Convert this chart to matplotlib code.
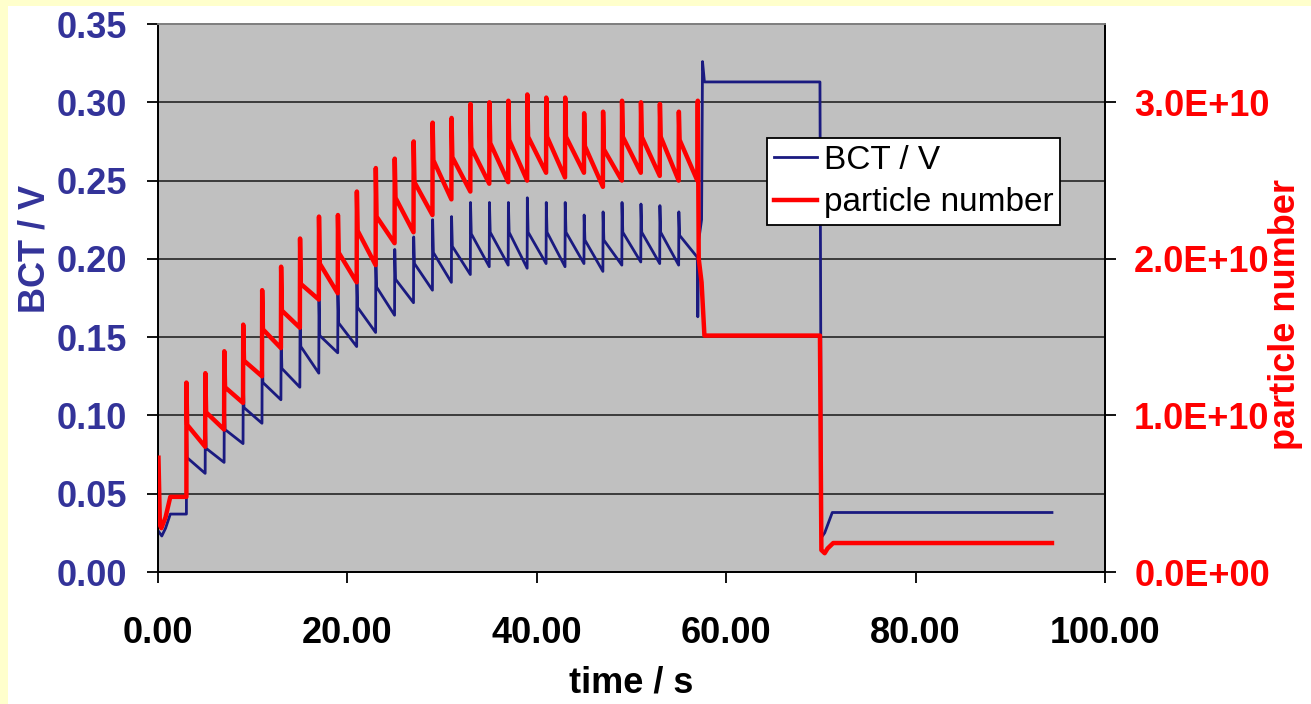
import matplotlib
matplotlib.use("Agg")
import matplotlib.pyplot as plt
from matplotlib.patches import Rectangle
from matplotlib.lines import Line2D
from matplotlib.ticker import FormatStrFormatter

plt.rcParams['font.family'] = ['Liberation Sans', 'DejaVu Sans']

# injection times (s)
spike_t = [3.0, 5.0, 7.0, 9.0, 11.0, 13.0, 15.0, 17.0, 19.0, 21.0, 23.0, 25.0, 27.0, 29.0,
           31.0, 33.0, 35.0, 37.0, 39.0, 41.0, 43.0, 45.0, 47.0, 49.0, 51.0, 53.0, 55.0]

# BCT / V per injection: spike top, level right after, level just before the next one
bct_peak = [0.094, 0.099, 0.110, 0.123, 0.140, 0.152, 0.166, 0.177, 0.178, 0.190, 0.201, 0.206, 0.214, 0.225,
            0.227, 0.236, 0.236, 0.236, 0.239, 0.236, 0.236, 0.228, 0.230, 0.236, 0.235, 0.234, 0.230]
bct_post = [0.073, 0.079, 0.091, 0.105, 0.121, 0.130, 0.144, 0.151, 0.159, 0.169, 0.182, 0.187, 0.197, 0.204,
            0.208, 0.216, 0.217, 0.217, 0.217, 0.217, 0.217, 0.212, 0.212, 0.217, 0.217, 0.217, 0.215]
bct_pre = [0.063, 0.070, 0.082, 0.095, 0.110, 0.118, 0.127, 0.140, 0.144, 0.153, 0.164, 0.172, 0.180, 0.185,
           0.190, 0.195, 0.196, 0.194, 0.197, 0.195, 0.197, 0.192, 0.196, 0.198, 0.197, 0.196, 0.201]

# particle number (units of 1E+10), same layout
pn_peak = [1.21, 1.27, 1.41, 1.58, 1.80, 1.95, 2.13, 2.27, 2.28, 2.43, 2.58, 2.64, 2.75, 2.87,
           2.90, 2.99, 3.00, 3.01, 3.05, 3.03, 3.03, 2.93, 2.94, 3.01, 3.00, 2.99, 2.94]
pn_post = [0.94, 1.02, 1.18, 1.35, 1.55, 1.67, 1.84, 1.97, 2.04, 2.18, 2.27, 2.39, 2.49, 2.63,
           2.65, 2.71, 2.74, 2.76, 2.78, 2.78, 2.78, 2.72, 2.70, 2.78, 2.78, 2.78, 2.76]
pn_pre = [0.80, 0.91, 1.08, 1.25, 1.43, 1.56, 1.74, 1.78, 1.85, 1.96, 2.10, 2.17, 2.28, 2.38,
          2.43, 2.48, 2.49, 2.50, 2.55, 2.52, 2.55, 2.46, 2.50, 2.55, 2.53, 2.50, 2.50]

# start of the cycle and the extraction at the end
bct_start_t = [0.05, 0.4, 0.8, 1.3, 3.0]
bct_start_v = [0.026, 0.023, 0.028, 0.037, 0.037]
pn_start_t = [0.05, 0.2, 0.35, 0.8, 1.3, 3.0]
pn_start_v = [0.73, 0.30, 0.28, 0.35, 0.48, 0.48]

bct_end_t = [57.0, 57.1, 57.4, 57.5, 57.7, 69.9, 70.05, 70.4, 71.2, 94.4]
bct_end_v = [0.163, 0.212, 0.225, 0.326, 0.313, 0.313, 0.022, 0.025, 0.038, 0.038]
pn_end_t = [57.0, 57.1, 57.4, 57.7, 69.9, 70.05, 70.4, 70.7, 71.3, 94.4]
pn_end_v = [3.01, 2.00, 1.85, 1.51, 1.51, 0.14, 0.12, 0.15, 0.185, 0.185]


def build(start_t, start_v, peak, post, pre, end_t, end_v):
    t = list(start_t)
    v = list(start_v)
    for i, ts in enumerate(spike_t):
        t += [ts, ts + 0.08, spike_t[i + 1] - 0.02 if i + 1 < len(spike_t) else 56.95]
        v += [peak[i], post[i], pre[i]]
    return t + end_t, v + end_v


bt, bv = build(bct_start_t, bct_start_v, bct_peak, bct_post, bct_pre, bct_end_t, bct_end_v)
pt, pv = build(pn_start_t, pn_start_v, pn_peak, pn_post, pn_pre, pn_end_t, pn_end_v)
pv = [x * 1e10 for x in pv]

blue = '#1a1a80'
label_blue = '#333399'
red = '#ff0000'

fig = plt.figure(figsize=(13.11, 7.04), dpi=100, facecolor='white')
fig.patches.append(Rectangle((0, 0), 8 / 1311, 1, transform=fig.transFigure,
                             facecolor='#ffffcc', edgecolor='none', zorder=-5))
fig.patches.append(Rectangle((0, 1 - 6 / 704), 1, 6 / 704, transform=fig.transFigure,
                             facecolor='#ffffcc', edgecolor='none', zorder=-5))

ax = fig.add_axes([158 / 1311, 1 - 572 / 704, 947 / 1311, 548 / 704])
ax.set_facecolor('#c0c0c0')
ax2 = ax.twinx()

ax.plot(bt, bv, color=blue, lw=2.0, zorder=3)
ax2.plot(pt, pv, color=red, lw=3.2, zorder=3)

ax.set_xlim(0, 100)
ax.set_ylim(0, 0.35)
ax2.set_ylim(0, 3.5e10)
ax.set_xticks([0, 20, 40, 60, 80, 100])
ax.set_yticks([0, 0.05, 0.10, 0.15, 0.20, 0.25, 0.30, 0.35])
ax2.set_yticks([0, 1e10, 2e10, 3e10])
ax.xaxis.set_major_formatter(FormatStrFormatter('%.2f'))
ax.yaxis.set_major_formatter(FormatStrFormatter('%.2f'))
ax2.yaxis.set_major_formatter(FormatStrFormatter('%.1E'))

ax.yaxis.grid(True, color='#303030', lw=1.3)
ax.set_axisbelow(True)

for a in (ax, ax2):
    for s in a.spines.values():
        s.set_color('black')
        s.set_linewidth(1.3)
    a.spines['top'].set_color('#808080')

ax.tick_params(axis='y', colors=label_blue, labelsize=26, length=8, width=1.3, pad=14)
ax.tick_params(axis='y', color='black')
for lab in ax.get_yticklabels():
    lab.set_fontweight('bold')
ax.tick_params(axis='x', labelsize=26, length=8, width=1.3, pad=24)
for lab in ax.get_xticklabels():
    lab.set_fontweight('bold')
ax2.tick_params(axis='y', labelcolor=red, color='black', labelsize=26, length=8, width=1.3, pad=13)
for lab in ax2.get_yticklabels():
    lab.set_fontweight('bold')

ax.set_xlabel('time / s', fontsize=26, fontweight='bold')
ax.xaxis.set_label_coords(0.5, -0.17)
ax.set_ylabel('BCT / V', fontsize=26, fontweight='bold', color=label_blue)
ax.yaxis.set_label_coords(-0.111, 0.59)
ax2.set_ylabel('particle number', fontsize=26, fontweight='bold', color=red)
ax2.yaxis.set_label_coords(1.172, 0.47)

handles = [Line2D([], [], color=blue, lw=2.0), Line2D([], [], color=red, lw=3.2)]
leg = ax2.legend(handles, ['BCT / V', 'particle number'], loc='upper left',
                 bbox_to_anchor=(767 / 1311, 1 - 138 / 704), bbox_transform=fig.transFigure,
                 fontsize=24, frameon=True, fancybox=False, framealpha=1, edgecolor='black',
                 borderpad=0.2, borderaxespad=0, labelspacing=0.35, handlelength=1.3,
                 handletextpad=0.2)
leg.get_frame().set_linewidth(1.3)

fig.savefig('out.png', dpi=100, facecolor=fig.get_facecolor())
